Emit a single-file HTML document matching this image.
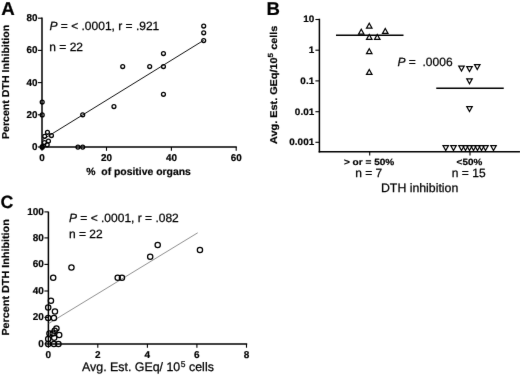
<!DOCTYPE html>
<html lang="en"><head><meta charset="utf-8"><title>Figure</title>
<style>html,body{margin:0;padding:0;background:#fff;}body{width:520px;height:375px;overflow:hidden;}svg{display:block;font-family:'Liberation Sans', Arial, Helvetica, sans-serif;fill:#000;text-rendering:geometricPrecision;}</style>
</head><body>
<svg width="520" height="375" viewBox="0 0 520 375">
<defs><filter id="soft" x="0" y="0" width="520" height="375" filterUnits="userSpaceOnUse" color-interpolation-filters="sRGB"><feConvolveMatrix order="3" kernelMatrix="0.00348 0.05206 0.00348 0.05206 0.77783 0.05206 0.00348 0.05206 0.00348" edgeMode="none" preserveAlpha="false"/></filter></defs>
<rect width="520" height="375" fill="#fff"/>
<g filter="url(#soft)">
<g id="panelA">
<text transform="translate(1.2,15)" font-size="18.7" font-weight="bold" text-anchor="start" stroke="#000" stroke-width="0.2">A</text>
<line x1="42" y1="17.4" x2="42" y2="147.75" stroke="#000" stroke-width="1.5"/>
<line x1="41.25" y1="147" x2="236.8" y2="147" stroke="#000" stroke-width="1.5"/>
<line x1="38" y1="18.2" x2="42" y2="18.2" stroke="#000" stroke-width="1.1"/>
<text transform="translate(37.5,21.2)" font-size="9.9" font-weight="bold" text-anchor="end" stroke="#000" stroke-width="0.2">80</text>
<line x1="38" y1="50.4" x2="42" y2="50.4" stroke="#000" stroke-width="1.1"/>
<text transform="translate(37.5,53.4)" font-size="9.9" font-weight="bold" text-anchor="end" stroke="#000" stroke-width="0.2">60</text>
<line x1="38" y1="82.6" x2="42" y2="82.6" stroke="#000" stroke-width="1.1"/>
<text transform="translate(37.5,85.6)" font-size="9.9" font-weight="bold" text-anchor="end" stroke="#000" stroke-width="0.2">40</text>
<line x1="38" y1="114.8" x2="42" y2="114.8" stroke="#000" stroke-width="1.1"/>
<text transform="translate(37.5,117.8)" font-size="9.9" font-weight="bold" text-anchor="end" stroke="#000" stroke-width="0.2">20</text>
<line x1="38" y1="147" x2="42" y2="147" stroke="#000" stroke-width="1.1"/>
<text transform="translate(37.5,150)" font-size="9.9" font-weight="bold" text-anchor="end" stroke="#000" stroke-width="0.2">0</text>
<line x1="42" y1="147" x2="42" y2="150.8" stroke="#000" stroke-width="1.1"/>
<text transform="translate(42,160.7)" font-size="9.9" font-weight="bold" text-anchor="middle" stroke="#000" stroke-width="0.2">0</text>
<line x1="106.5" y1="147" x2="106.5" y2="150.8" stroke="#000" stroke-width="1.1"/>
<text transform="translate(106.5,160.7)" font-size="9.9" font-weight="bold" text-anchor="middle" stroke="#000" stroke-width="0.2">20</text>
<line x1="171.4" y1="147" x2="171.4" y2="150.8" stroke="#000" stroke-width="1.1"/>
<text transform="translate(171.4,160.7)" font-size="9.9" font-weight="bold" text-anchor="middle" stroke="#000" stroke-width="0.2">40</text>
<line x1="236.2" y1="147" x2="236.2" y2="150.8" stroke="#000" stroke-width="1.1"/>
<text transform="translate(236.2,160.7)" font-size="9.9" font-weight="bold" text-anchor="middle" stroke="#000" stroke-width="0.2">60</text>
<text transform="translate(86.3,175)" font-size="10.4" font-weight="bold" text-anchor="start" stroke="#000" stroke-width="0.2">%&#160; of positive organs</text>
<text transform="translate(8.6,81.9) rotate(-90) scale(1.06,1)" font-size="10.0" font-weight="bold" text-anchor="middle" stroke="#000" stroke-width="0.2">Percent DTH Inhibition</text>
<text transform="translate(49.5,30)" font-size="12" font-weight="normal" text-anchor="start" stroke="#000" stroke-width="0.25"><tspan font-style="italic">P</tspan> = &lt; .0001, r = .921</text>
<text transform="translate(49.3,51)" font-size="12" font-weight="normal" text-anchor="start" stroke="#000" stroke-width="0.25">n = 22</text>
<line x1="42" y1="140" x2="203.7" y2="40.3" stroke="#111" stroke-width="1.0"/>
<circle cx="203.7" cy="26.05" r="1.95" fill="none" stroke="#000" stroke-width="1.3"/>
<circle cx="203.7" cy="32.8" r="1.95" fill="none" stroke="#000" stroke-width="1.3"/>
<circle cx="203.7" cy="40.55" r="1.95" fill="none" stroke="#000" stroke-width="1.3"/>
<circle cx="163.45" cy="53.55" r="1.95" fill="none" stroke="#000" stroke-width="1.3"/>
<circle cx="149.7" cy="66.55" r="1.95" fill="none" stroke="#000" stroke-width="1.3"/>
<circle cx="163.45" cy="66.55" r="1.95" fill="none" stroke="#000" stroke-width="1.3"/>
<circle cx="163.45" cy="94.3" r="1.95" fill="none" stroke="#000" stroke-width="1.3"/>
<circle cx="122.7" cy="66.55" r="1.95" fill="none" stroke="#000" stroke-width="1.3"/>
<circle cx="42.2" cy="102.05" r="1.95" fill="none" stroke="#000" stroke-width="1.3"/>
<circle cx="42.2" cy="114.9" r="1.95" fill="none" stroke="#000" stroke-width="1.3"/>
<circle cx="82.7" cy="114.8" r="1.95" fill="none" stroke="#000" stroke-width="1.3"/>
<circle cx="113.95" cy="106.55" r="1.95" fill="none" stroke="#000" stroke-width="1.3"/>
<circle cx="47.45" cy="132.3" r="1.95" fill="none" stroke="#000" stroke-width="1.3"/>
<circle cx="51.45" cy="135.55" r="1.95" fill="none" stroke="#000" stroke-width="1.3"/>
<circle cx="44.7" cy="136.3" r="1.95" fill="none" stroke="#000" stroke-width="1.3"/>
<circle cx="48.45" cy="141.05" r="1.95" fill="none" stroke="#000" stroke-width="1.3"/>
<circle cx="44.45" cy="142.55" r="1.95" fill="none" stroke="#000" stroke-width="1.3"/>
<circle cx="47.2" cy="144.8" r="1.95" fill="none" stroke="#000" stroke-width="1.3"/>
<circle cx="42.2" cy="146.6" r="1.95" fill="none" stroke="#000" stroke-width="1.3"/>
<circle cx="77.95" cy="147.1" r="1.95" fill="none" stroke="#000" stroke-width="1.3"/>
<circle cx="82.7" cy="147.1" r="1.95" fill="none" stroke="#000" stroke-width="1.3"/>
<circle cx="42.2" cy="147.3" r="1.95" fill="none" stroke="#000" stroke-width="1.3"/>
</g>
<g id="panelB">
<text transform="translate(266.5,15)" font-size="18.6" font-weight="bold" text-anchor="start" stroke="#000" stroke-width="0.2">B</text>
<line x1="319.4" y1="18.7" x2="319.4" y2="152.45" stroke="#000" stroke-width="1.5"/>
<line x1="318.65" y1="151.7" x2="520" y2="151.7" stroke="#000" stroke-width="1.5"/>
<line x1="315.4" y1="19.5" x2="319.4" y2="19.5" stroke="#000" stroke-width="1.1"/>
<text transform="translate(314.2,22.4) scale(1.06,1)" font-size="9.4" font-weight="bold" text-anchor="end" stroke="#000" stroke-width="0.2">10</text>
<line x1="315.4" y1="50.2" x2="319.4" y2="50.2" stroke="#000" stroke-width="1.1"/>
<text transform="translate(314.2,53.1) scale(1.06,1)" font-size="9.4" font-weight="bold" text-anchor="end" stroke="#000" stroke-width="0.2">1</text>
<line x1="315.4" y1="80.9" x2="319.4" y2="80.9" stroke="#000" stroke-width="1.1"/>
<text transform="translate(314.2,83.8) scale(1.06,1)" font-size="9.4" font-weight="bold" text-anchor="end" stroke="#000" stroke-width="0.2">0.1</text>
<line x1="315.4" y1="111.7" x2="319.4" y2="111.7" stroke="#000" stroke-width="1.1"/>
<text transform="translate(314.2,114.6) scale(1.06,1)" font-size="9.4" font-weight="bold" text-anchor="end" stroke="#000" stroke-width="0.2">0.01</text>
<line x1="315.4" y1="142.3" x2="319.4" y2="142.3" stroke="#000" stroke-width="1.1"/>
<text transform="translate(314.2,145.2) scale(1.06,1)" font-size="9.4" font-weight="bold" text-anchor="end" stroke="#000" stroke-width="0.2">0.001</text>
<line x1="369.7" y1="151.7" x2="369.7" y2="155.5" stroke="#000" stroke-width="1.1"/>
<line x1="470" y1="151.7" x2="470" y2="155.5" stroke="#000" stroke-width="1.1"/>
<text transform="translate(369.1,165) scale(1.12,1)" font-size="9.0" font-weight="bold" text-anchor="middle" stroke="#000" stroke-width="0.2">&gt; or = 50%</text>
<text transform="translate(469.4,165) scale(1.1,1)" font-size="9.0" font-weight="bold" text-anchor="middle" stroke="#000" stroke-width="0.2">&lt;50%</text>
<text transform="translate(368.7,177)" font-size="12" font-weight="normal" text-anchor="middle" stroke="#000" stroke-width="0.25">n = 7</text>
<text transform="translate(468.7,177)" font-size="12" font-weight="normal" text-anchor="middle" stroke="#000" stroke-width="0.25">n = 15</text>
<text transform="translate(419.6,191.5)" font-size="12.3" font-weight="normal" text-anchor="middle" stroke="#000" stroke-width="0.25">DTH inhibition</text>
<text transform="translate(277,84.8) rotate(-90) scale(1.1,1)" font-size="9.9" font-weight="bold" text-anchor="middle" stroke="#000" stroke-width="0.2">Avg. Est. GEq/10<tspan font-size="7.4" dy="-4.2">5</tspan><tspan dy="4.2"> cells</tspan></text>
<text transform="translate(397.5,65.7)" font-size="12" font-weight="normal" text-anchor="start" stroke="#000" stroke-width="0.25"><tspan font-style="italic">P</tspan> =&#160; .0006</text>
<line x1="336" y1="35.2" x2="403.5" y2="35.2" stroke="#000" stroke-width="1.4"/>
<line x1="436.25" y1="88.2" x2="503.75" y2="88.2" stroke="#000" stroke-width="1.4"/>
<path d="M366.5,28.2 L372,28.2 L369.25,23.3 Z" fill="none" stroke="#000" stroke-width="1.2" stroke-linejoin="miter"/>
<path d="M358.5,34.2 L364,34.2 L361.25,29.3 Z" fill="none" stroke="#000" stroke-width="1.2" stroke-linejoin="miter"/>
<path d="M382.5,33.45 L388,33.45 L385.25,28.55 Z" fill="none" stroke="#000" stroke-width="1.2" stroke-linejoin="miter"/>
<path d="M366.5,39.45 L372,39.45 L369.25,34.55 Z" fill="none" stroke="#000" stroke-width="1.2" stroke-linejoin="miter"/>
<path d="M374.5,39.45 L380,39.45 L377.25,34.55 Z" fill="none" stroke="#000" stroke-width="1.2" stroke-linejoin="miter"/>
<path d="M366.5,53.7 L372,53.7 L369.25,48.8 Z" fill="none" stroke="#000" stroke-width="1.2" stroke-linejoin="miter"/>
<path d="M366.5,74.45 L372,74.45 L369.25,69.55 Z" fill="none" stroke="#000" stroke-width="1.2" stroke-linejoin="miter"/>
<path d="M458.75,66.05 L464.25,66.05 L461.5,70.95 Z" fill="none" stroke="#000" stroke-width="1.2" stroke-linejoin="miter"/>
<path d="M466.75,66.55 L472.25,66.55 L469.5,71.45 Z" fill="none" stroke="#000" stroke-width="1.2" stroke-linejoin="miter"/>
<path d="M474.5,64.55 L480,64.55 L477.25,69.45 Z" fill="none" stroke="#000" stroke-width="1.2" stroke-linejoin="miter"/>
<path d="M466.75,78.8 L472.25,78.8 L469.5,83.7 Z" fill="none" stroke="#000" stroke-width="1.2" stroke-linejoin="miter"/>
<path d="M466.75,106.55 L472.25,106.55 L469.5,111.45 Z" fill="none" stroke="#000" stroke-width="1.2" stroke-linejoin="miter"/>
<path d="M443,145.55 L448.5,145.55 L445.75,150.45 Z" fill="none" stroke="#000" stroke-width="1.2" stroke-linejoin="miter"/>
<path d="M450.75,145.55 L456.25,145.55 L453.5,150.45 Z" fill="none" stroke="#000" stroke-width="1.2" stroke-linejoin="miter"/>
<path d="M490.75,145.55 L496.25,145.55 L493.5,150.45 Z" fill="none" stroke="#000" stroke-width="1.2" stroke-linejoin="miter"/>
<path d="M458.75,145.55 L464.25,145.55 L461.5,150.45 Z" fill="none" stroke="#000" stroke-width="1.2" stroke-linejoin="miter"/>
<path d="M462.75,145.55 L468.25,145.55 L465.5,150.45 Z" fill="none" stroke="#000" stroke-width="1.2" stroke-linejoin="miter"/>
<path d="M466.75,145.55 L472.25,145.55 L469.5,150.45 Z" fill="none" stroke="#000" stroke-width="1.2" stroke-linejoin="miter"/>
<path d="M470.75,145.55 L476.25,145.55 L473.5,150.45 Z" fill="none" stroke="#000" stroke-width="1.2" stroke-linejoin="miter"/>
<path d="M474.75,145.55 L480.25,145.55 L477.5,150.45 Z" fill="none" stroke="#000" stroke-width="1.2" stroke-linejoin="miter"/>
<path d="M478.75,145.55 L484.25,145.55 L481.5,150.45 Z" fill="none" stroke="#000" stroke-width="1.2" stroke-linejoin="miter"/>
<path d="M482.75,145.55 L488.25,145.55 L485.5,150.45 Z" fill="none" stroke="#000" stroke-width="1.2" stroke-linejoin="miter"/>
</g>
<g id="panelC">
<text transform="translate(0.5,208.2)" font-size="17.8" font-weight="bold" text-anchor="start" stroke="#000" stroke-width="0.2">C</text>
<line x1="48.4" y1="211.6" x2="48.4" y2="344.65" stroke="#000" stroke-width="1.5"/>
<line x1="47.65" y1="343.9" x2="247.2" y2="343.9" stroke="#000" stroke-width="1.5"/>
<line x1="44.4" y1="211.9" x2="48.4" y2="211.9" stroke="#000" stroke-width="1.1"/>
<text transform="translate(43.9,214.9)" font-size="10.0" font-weight="bold" text-anchor="end" stroke="#000" stroke-width="0.2">100</text>
<line x1="44.4" y1="237.9" x2="48.4" y2="237.9" stroke="#000" stroke-width="1.1"/>
<text transform="translate(43.9,240.9)" font-size="10.0" font-weight="bold" text-anchor="end" stroke="#000" stroke-width="0.2">80</text>
<line x1="44.4" y1="264.4" x2="48.4" y2="264.4" stroke="#000" stroke-width="1.1"/>
<text transform="translate(43.9,267.4)" font-size="10.0" font-weight="bold" text-anchor="end" stroke="#000" stroke-width="0.2">60</text>
<line x1="44.4" y1="291" x2="48.4" y2="291" stroke="#000" stroke-width="1.1"/>
<text transform="translate(43.9,294)" font-size="10.0" font-weight="bold" text-anchor="end" stroke="#000" stroke-width="0.2">40</text>
<line x1="44.4" y1="317.4" x2="48.4" y2="317.4" stroke="#000" stroke-width="1.1"/>
<text transform="translate(43.9,320.4)" font-size="10.0" font-weight="bold" text-anchor="end" stroke="#000" stroke-width="0.2">20</text>
<line x1="44.4" y1="343.9" x2="48.4" y2="343.9" stroke="#000" stroke-width="1.1"/>
<text transform="translate(43.9,346.9)" font-size="10.0" font-weight="bold" text-anchor="end" stroke="#000" stroke-width="0.2">0</text>
<line x1="48.4" y1="343.9" x2="48.4" y2="347.7" stroke="#000" stroke-width="1.1"/>
<text transform="translate(48.4,357.5)" font-size="10.0" font-weight="bold" text-anchor="middle" stroke="#000" stroke-width="0.2">0</text>
<line x1="97.8" y1="343.9" x2="97.8" y2="347.7" stroke="#000" stroke-width="1.1"/>
<text transform="translate(97.8,357.5)" font-size="10.0" font-weight="bold" text-anchor="middle" stroke="#000" stroke-width="0.2">2</text>
<line x1="147.4" y1="343.9" x2="147.4" y2="347.7" stroke="#000" stroke-width="1.1"/>
<text transform="translate(147.4,357.5)" font-size="10.0" font-weight="bold" text-anchor="middle" stroke="#000" stroke-width="0.2">4</text>
<line x1="196.9" y1="343.9" x2="196.9" y2="347.7" stroke="#000" stroke-width="1.1"/>
<text transform="translate(196.9,357.5)" font-size="10.0" font-weight="bold" text-anchor="middle" stroke="#000" stroke-width="0.2">6</text>
<line x1="246.5" y1="343.9" x2="246.5" y2="347.7" stroke="#000" stroke-width="1.1"/>
<text transform="translate(246.5,357.5)" font-size="10.0" font-weight="bold" text-anchor="middle" stroke="#000" stroke-width="0.2">8</text>
<text transform="translate(82,371.2)" font-size="12.4" font-weight="normal" text-anchor="start" stroke="#000" stroke-width="0.25">Avg. Est. GEq/ 10<tspan font-size="8.5" dy="-4.6" dx="0.6">5</tspan><tspan dy="4.6"> cells</tspan></text>
<text transform="translate(9,277.4) rotate(-90) scale(1.06,1)" font-size="10.2" font-weight="bold" text-anchor="middle" stroke="#000" stroke-width="0.2">Percent DTH Inhibition</text>
<text transform="translate(69,222)" font-size="12" font-weight="normal" text-anchor="start" stroke="#000" stroke-width="0.25"><tspan font-style="italic">P</tspan> = &lt; .0001, r = .082</text>
<text transform="translate(69,237.5)" font-size="12" font-weight="normal" text-anchor="start" stroke="#000" stroke-width="0.25">n = 22</text>
<line x1="48.2" y1="323.8" x2="197.7" y2="232.8" stroke="#444" stroke-width="0.6"/>
<circle cx="71.45" cy="267.5" r="2.65" fill="none" stroke="#000" stroke-width="1.25"/>
<circle cx="53.2" cy="277.75" r="2.65" fill="none" stroke="#000" stroke-width="1.25"/>
<circle cx="117.7" cy="277.75" r="2.65" fill="none" stroke="#000" stroke-width="1.25"/>
<circle cx="121.95" cy="277.75" r="2.65" fill="none" stroke="#000" stroke-width="1.25"/>
<circle cx="150.2" cy="256.75" r="2.65" fill="none" stroke="#000" stroke-width="1.25"/>
<circle cx="157.7" cy="245" r="2.65" fill="none" stroke="#000" stroke-width="1.25"/>
<circle cx="199.95" cy="250" r="2.65" fill="none" stroke="#000" stroke-width="1.25"/>
<circle cx="50.95" cy="300.75" r="2.65" fill="none" stroke="#000" stroke-width="1.25"/>
<circle cx="48.2" cy="307.5" r="2.65" fill="none" stroke="#000" stroke-width="1.25"/>
<circle cx="54.95" cy="311.5" r="2.65" fill="none" stroke="#000" stroke-width="1.25"/>
<circle cx="48.2" cy="318" r="2.65" fill="none" stroke="#000" stroke-width="1.25"/>
<circle cx="53.95" cy="318" r="2.65" fill="none" stroke="#000" stroke-width="1.25"/>
<circle cx="56.45" cy="328.5" r="2.65" fill="none" stroke="#000" stroke-width="1.25"/>
<circle cx="54.7" cy="330.75" r="2.65" fill="none" stroke="#000" stroke-width="1.25"/>
<circle cx="49.45" cy="333.5" r="2.65" fill="none" stroke="#000" stroke-width="1.25"/>
<circle cx="52.7" cy="333.5" r="2.65" fill="none" stroke="#000" stroke-width="1.25"/>
<circle cx="59.2" cy="335" r="2.65" fill="none" stroke="#000" stroke-width="1.25"/>
<circle cx="54.2" cy="337.75" r="2.65" fill="none" stroke="#000" stroke-width="1.25"/>
<circle cx="48.2" cy="339" r="2.65" fill="none" stroke="#000" stroke-width="1.25"/>
<circle cx="48.2" cy="344" r="2.65" fill="none" stroke="#000" stroke-width="1.25"/>
<circle cx="53.95" cy="344" r="2.65" fill="none" stroke="#000" stroke-width="1.25"/>
<circle cx="58.45" cy="344" r="2.65" fill="none" stroke="#000" stroke-width="1.25"/>
</g>
</g>
</svg>
</body></html>
